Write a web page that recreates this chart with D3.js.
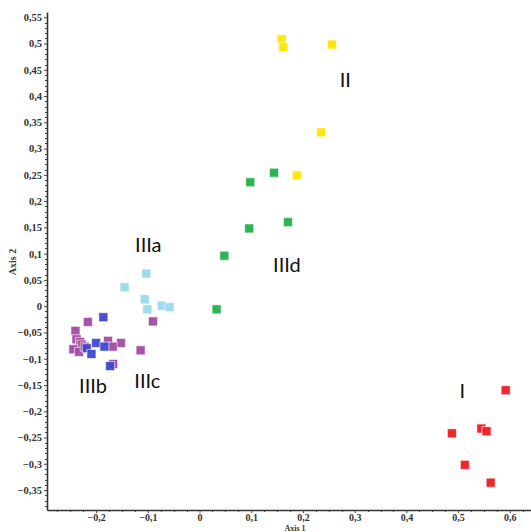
<!DOCTYPE html>
<html>
<head>
<meta charset="utf-8">
<script src="https://cdn.jsdelivr.net/npm/d3@7"></script>
<style>
  html, body { margin: 0; padding: 0; background: #fff; overflow: hidden; }
  svg { display: block; }
</style>
</head>
<body>
<div id="chart"></div>
<script>
// group points, [axis1, axis2]
const groupI = [[0.592, -0.160], [0.488, -0.242], [0.545, -0.233], [0.555, -0.238], [0.513, -0.302], [0.563, -0.336]];
const groupII = [[0.159, 0.508], [0.162, 0.493], [0.256, 0.498], [0.235, 0.331], [0.188, 0.249]];
const groupIIId = [[0.144, 0.254], [0.098, 0.236], [0.096, 0.148], [0.171, 0.160], [0.048, 0.096], [0.033, -0.006]];
const groupIIIa = [[-0.103, 0.062], [-0.145, 0.036], [-0.106, 0.013], [-0.101, -0.006], [-0.073, 0.001], [-0.058, -0.002]];
const groupIIIc = [[-0.216, -0.030], [-0.090, -0.029], [-0.240, -0.047], [-0.238, -0.063], [-0.231, -0.068], [-0.228, -0.073],
                   [-0.177, -0.066], [-0.152, -0.070], [-0.168, -0.077], [-0.244, -0.082], [-0.233, -0.087], [-0.222, -0.077],
                   [-0.114, -0.084], [-0.167, -0.110]];
const groupIIIb = [[-0.186, -0.021], [-0.200, -0.070], [-0.184, -0.077], [-0.218, -0.080], [-0.209, -0.091], [-0.173, -0.114]];

const groupColors = ["#ed1c24", "#ffe600", "#22b14c", "#99d9ea", "#a349a4", "#3f48cc"];

// annotation labels [text, axis1, axis2]
const labels = [["II", 0.282, 0.417], ["I", 0.508, -0.175], ["IIIa", -0.099, 0.103], ["IIId", 0.169, 0.065],
                ["IIIb", -0.206, -0.165], ["IIIc", -0.101, -0.156]];

const xTicks = [-0.2, -0.1, 0, 0.1, 0.2, 0.3, 0.4, 0.5, 0.6];
const yTicks = [-0.35, -0.3, -0.25, -0.2, -0.15, -0.1, -0.05, 0, 0.05, 0.1, 0.15, 0.2, 0.25, 0.3, 0.35, 0.4, 0.45, 0.5, 0.55];

const width = 531, height = 532;
const margin = {top: 12, right: 0, bottom: 22, left: 47};

const x = d3.scaleLinear().domain([-0.295, 0.641]).range([margin.left, width - margin.right]);
const y = d3.scaleLinear().domain([-0.388, 0.56]).range([height - margin.bottom, margin.top]);

const fmt = d => d === 0 ? "0" : d3.format("")(+d.toFixed(2)).replace(".", ",");

const svg = d3.select("#chart").append("svg")
    .attr("width", width)
    .attr("height", height);

// minor ticks
const xMinor = d3.range(-0.275, 0.64, 0.025).filter(v => Math.abs(Math.round(v * 10) - v * 10) > 0.01);
const yMinor = d3.range(-0.38, 0.56, 0.01).filter(v => Math.abs(Math.round(v * 20) - v * 20) > 0.01);

svg.append("g")
    .attr("stroke", "#444")
    .attr("stroke-width", 1)
    .call(g => g.selectAll("line.xm")
        .data(xMinor)
        .join("line")
        .attr("x1", d => Math.round(x(d)) + 0.5)
        .attr("x2", d => Math.round(x(d)) + 0.5)
        .attr("y1", y.range()[0])
        .attr("y2", y.range()[0] + 2))
    .call(g => g.selectAll("line.ym")
        .data(yMinor)
        .join("line")
        .attr("y1", d => Math.round(y(d)) + 0.5)
        .attr("y2", d => Math.round(y(d)) + 0.5)
        .attr("x1", x.range()[0] - 2)
        .attr("x2", x.range()[0]));

const xAxis = svg.append("g")
    .attr("transform", `translate(0,${y.range()[0]})`)
    .call(d3.axisBottom(x).tickValues(xTicks).tickFormat(fmt).tickSize(3).tickSizeOuter(0).tickPadding(1));

const yAxis = svg.append("g")
    .attr("transform", `translate(${x.range()[0]},0)`)
    .call(d3.axisLeft(y).tickValues(yTicks).tickFormat(fmt).tickSize(3).tickSizeOuter(0).tickPadding(2));

[xAxis, yAxis].forEach(a => {
    a.select(".domain").attr("stroke", "#333").attr("stroke-width", 1.6);
    a.selectAll(".tick line").attr("stroke", "#444");
    a.selectAll(".tick text")
        .attr("fill", "#333")
        .style("font-family", "'Liberation Serif', 'DejaVu Serif', serif")
        .style("font-weight", "bold")
        .style("font-size", "10.5px");
});

xAxis.selectAll(".tick text").style("font-size", "10px");

svg.append("text")
    .attr("x", 295)
    .attr("y", 530.5)
    .attr("text-anchor", "middle")
    .attr("fill", "#333")
    .style("font-family", "'Liberation Serif', serif")
    .style("font-weight", "bold")
    .style("font-size", "8px")
    .text("Axis 1");

svg.append("text")
    .attr("transform", "translate(16,262) rotate(-90)")
    .attr("text-anchor", "middle")
    .attr("fill", "#333")
    .style("font-family", "'Liberation Serif', serif")
    .style("font-weight", "bold")
    .style("font-size", "10px")
    .text("Axis 2");

// points
const groups = [groupI, groupII, groupIIId, groupIIIa, groupIIIc, groupIIIb];
const size = 9;

groups.forEach((pts, i) => {
    svg.append("g")
        .selectAll("rect")
        .data(pts)
        .join("rect")
        .attr("x", d => x(d[0]) - size / 2)
        .attr("y", d => y(d[1]) - size / 2)
        .attr("width", size)
        .attr("height", size)
        .attr("fill", groupColors[i])
        .attr("fill-opacity", 0.95)
        .attr("stroke", "#fff")
        .attr("stroke-opacity", 0.6)
        .attr("stroke-width", 1);
});

svg.append("g")
    .selectAll("text")
    .data(labels)
    .join("text")
    .attr("x", d => x(d[1]))
    .attr("y", d => y(d[2]))
    .attr("text-anchor", "middle")
    .attr("fill", "#111")
    .style("font-family", "Lato, 'Open Sans', sans-serif")
    .style("font-size", "20px")
    .text(d => d[0]);
</script>
</body>
</html>
